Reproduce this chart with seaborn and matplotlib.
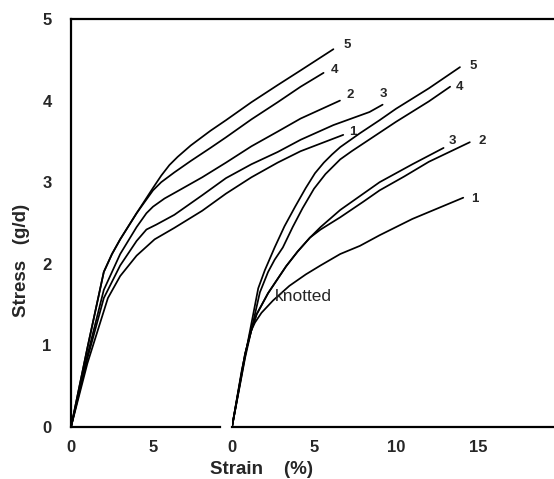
import numpy as np
import pandas as pd
import matplotlib
matplotlib.use("Agg")
import matplotlib.pyplot as plt
import seaborn as sns

# ---------------- data (strain %, stress g/d) ----------------
curve_ids = ["1", "2", "3", "4", "5"]

# unknotted fibres (left group)
u1_strain = [0, 1.0, 2.25, 3.0, 4.0, 5.1, 6.3, 8.0, 9.45, 11.0, 12.6, 14.0, 16.6]
u1_stress = [0, 0.78, 1.58, 1.85, 2.10, 2.30, 2.44, 2.65, 2.86, 3.06, 3.24, 3.38, 3.58]
u2_strain = [0, 1.0, 2.0, 3.0, 4.0, 4.6, 5.0, 5.7, 6.5, 8.0, 9.45, 11.0, 12.6, 14.0, 16.4]
u2_stress = [0, 0.88, 1.68, 2.12, 2.45, 2.62, 2.70, 2.80, 2.89, 3.06, 3.24, 3.44, 3.62, 3.78, 4.00]
u3_strain = [0, 1.0, 2.0, 3.0, 4.0, 4.6, 5.2, 6.3, 8.0, 9.45, 11.0, 12.6, 14.0, 16.0, 18.2, 19.0]
u3_stress = [0, 0.84, 1.58, 1.98, 2.28, 2.42, 2.48, 2.60, 2.84, 3.05, 3.22, 3.37, 3.52, 3.70, 3.86, 3.95]
u4_strain = [0, 1.0, 2.0, 2.5, 3.0, 4.0, 5.0, 5.5, 6.3, 7.3, 8.5, 9.45, 11.0, 12.6, 14.0, 15.4]
u4_stress = [0, 0.97, 1.90, 2.12, 2.30, 2.62, 2.90, 3.00, 3.12, 3.26, 3.42, 3.55, 3.77, 3.98, 4.17, 4.34]
u5_strain = [0, 1.0, 2.0, 2.5, 3.0, 4.0, 5.0, 5.5, 6.0, 6.5, 7.3, 8.5, 9.45, 11.0, 12.6, 14.0, 16.0]
u5_stress = [0, 0.97, 1.90, 2.12, 2.30, 2.62, 2.93, 3.08, 3.21, 3.31, 3.45, 3.63, 3.76, 3.98, 4.19, 4.37, 4.63]

# knotted fibres (right group)
k1_strain = [0, 0.6, 1.1, 1.4, 1.8, 2.5, 3.5, 4.5, 5.4, 6.6, 7.8, 9.0, 11.0, 14.1]
k1_stress = [0, 0.70, 1.15, 1.28, 1.40, 1.55, 1.73, 1.87, 1.98, 2.12, 2.22, 2.35, 2.55, 2.81]
k2_strain = [0, 0.8, 1.2, 1.5, 2.2, 3.3, 4.0, 4.75, 5.4, 6.6, 8.0, 9.0, 10.5, 12.0, 14.5]
k2_stress = [0, 0.90, 1.20, 1.38, 1.64, 1.97, 2.15, 2.32, 2.42, 2.57, 2.76, 2.90, 3.07, 3.25, 3.49]
k3_strain = [0, 0.8, 1.2, 1.5, 2.2, 3.3, 4.0, 4.75, 5.4, 6.6, 9.0, 11.0, 12.9]
k3_stress = [0, 0.90, 1.20, 1.38, 1.64, 1.97, 2.15, 2.32, 2.45, 2.66, 3.00, 3.22, 3.42]
k4_strain = [0, 0.8, 1.7, 2.2, 2.6, 3.1, 3.7, 4.3, 5.0, 5.7, 6.6, 7.3, 8.5, 10.0, 12.0, 13.3]
k4_stress = [0, 0.85, 1.65, 1.90, 2.05, 2.20, 2.45, 2.68, 2.92, 3.10, 3.28, 3.38, 3.54, 3.74, 3.99, 4.17]
k5_strain = [0, 0.8, 1.6, 2.0, 2.6, 3.2, 3.85, 4.5, 5.06, 5.6, 6.1, 6.6, 7.8, 9.0, 10.0, 12.0, 13.9]
k5_stress = [0, 0.87, 1.70, 1.92, 2.20, 2.46, 2.70, 2.93, 3.11, 3.24, 3.34, 3.43, 3.60, 3.76, 3.90, 4.15, 4.41]

y_ticks = [0, 1, 2, 3, 4, 5]
x_ticks_left = [0, 5]
x_ticks_right = [0, 5, 10, 15]
knot_label = "knotted"


def long_form(strains, stresses):
    frames = []
    for cid, s, t in zip(curve_ids, strains, stresses):
        frames.append(pd.DataFrame({"strain": s, "stress": t, "curve": cid}))
    return pd.concat(frames, ignore_index=True)


df_u = long_form([u1_strain, u2_strain, u3_strain, u4_strain, u5_strain],
                 [u1_stress, u2_stress, u3_stress, u4_stress, u5_stress])
df_k = long_form([k1_strain, k2_strain, k3_strain, k4_strain, k5_strain],
                 [k1_stress, k2_stress, k3_stress, k4_stress, k5_stress])

sns.set_style("white")
plt.rcParams["font.family"] = ["Liberation Sans", "DejaVu Sans"]

W, H = 554, 479
fig = plt.figure(figsize=(W / 100, H / 100), dpi=100)

px_per_unit = 16.4
x0_left, x0_right, x_end = 71, 232, 554
y_top, y_bot = 19, 427

axL = fig.add_axes([x0_left / W, 1 - y_bot / H, (x_end - x0_left) / W, (y_bot - y_top) / H])
axR = fig.add_axes([x0_right / W, 1 - y_bot / H, (x_end - x0_right) / W, (y_bot - y_top) / H])
axR.patch.set_alpha(0)

palette = {c: "black" for c in curve_ids}
for ax, df in ((axL, df_u), (axR, df_k)):
    sns.lineplot(data=df, x="strain", y="stress", hue="curve", palette=palette,
                 units="curve", estimator=None, sort=False, lw=1.25, legend=False, ax=ax)
    ax.set_ylim(0, 5)
    ax.set_xlabel("")
    ax.set_ylabel("")

axL.set_xlim(0, (x_end - x0_left) / px_per_unit)
axR.set_xlim(0, (x_end - x0_right) / px_per_unit)

# spines
for s in ["left", "top", "bottom"]:
    axL.spines[s].set_linewidth(1.6)
    axL.spines[s].set_color("black")
axL.spines["right"].set_visible(False)
axL.spines["bottom"].set_bounds(0, 9.1)
for s in ["left", "top", "right"]:
    axR.spines[s].set_visible(False)
axR.spines["bottom"].set_linewidth(1.6)
axR.spines["bottom"].set_color("black")

tick_kw = dict(direction="in", length=5, width=1.3, color="black", labelsize=12)
axL.set_yticks(y_ticks)
axL.set_xticks(x_ticks_left)
axL.tick_params(axis="y", pad=14, **tick_kw)
axL.tick_params(axis="x", pad=9, **tick_kw)
axR.set_yticks([])
axR.set_xticks(x_ticks_right)
axR.tick_params(axis="x", pad=9, **tick_kw)
for ax in (axL, axR):
    for lab in ax.get_xticklabels() + ax.get_yticklabels():
        lab.set_fontweight("bold")

# curve number labels
label_offsets_u = {"5": (7, 3), "4": (5, 2), "2": (5, 4), "3": (-2, 8), "1": (4, 2)}
label_offsets_k = {"5": (7, 1), "4": (4, 0), "3": (4, 5), "2": (6, 1), "1": (6, -1)}
for ax, df, offs in ((axL, df_u, label_offsets_u), (axR, df_k, label_offsets_k)):
    for cid in curve_ids:
        sub = df[df["curve"] == cid]
        ax.annotate(cid, xy=(sub["strain"].iloc[-1], sub["stress"].iloc[-1]),
                    xytext=offs[cid], textcoords="offset points",
                    ha="left", va="center", fontsize=9.5, fontweight="bold")

axR.text(2.6, 1.6, knot_label, fontsize=12.5, ha="left", va="center")

fig.text(261 / W, 1 - 469 / H, "Strain    (%)", ha="center", va="center",
         fontsize=13.5, fontweight="bold")
fig.text(22 / W, 1 - 260 / H, "Stress   (g/d)", ha="center", va="center",
         rotation=90, fontsize=13.5, fontweight="bold")

fig.savefig("out.png", dpi=100)
